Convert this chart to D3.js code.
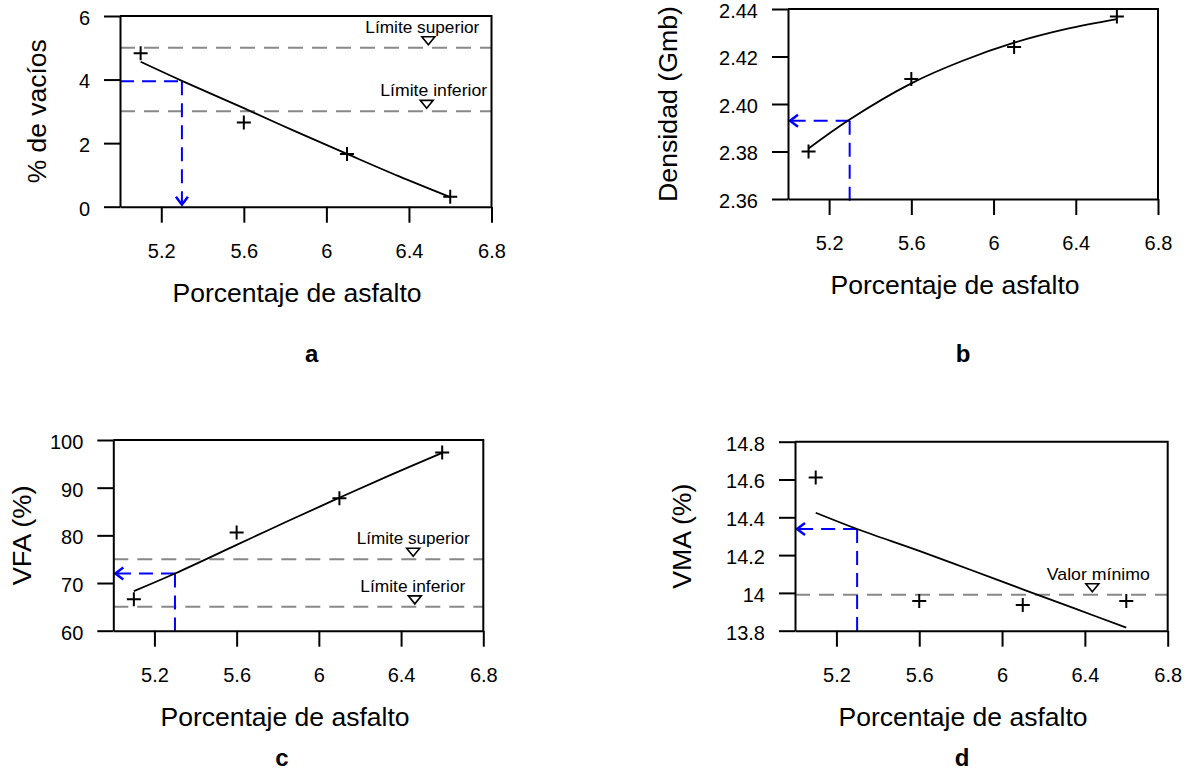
<!DOCTYPE html>
<html><head><meta charset="utf-8">
<script src="https://cdn.jsdelivr.net/npm/d3@7"></script>
<style>
body{margin:0;background:#fff}
svg{display:block}
text{font-family:Arial,"Liberation Sans",sans-serif;fill:#000}
</style>
</head><body>
<svg id="chart" width="1189" height="772"></svg>
<script>
// ---------- data ----------
const asphalt = [5.1, 5.6, 6.1, 6.6];
const voids   = [4.83, 2.65, 1.66, 0.31];
const density = [2.380, 2.4105, 2.424, 2.4368];
const vfa     = [66.6, 80.6, 87.8, 97.4];
const vma     = [14.61, 13.957, 13.936, 13.957];

const fitX        = [5.1, 5.3, 5.6, 5.85, 6.1, 6.35, 6.6];
const voidsFit    = [4.56, 3.96, 3.1, 2.37, 1.66, 0.96, 0.3];
const densityFit  = [2.3813, 2.3935, 2.4087, 2.4182, 2.4258, 2.4315, 2.4357];
const vfaFit      = [68.3, 72.0, 78.0, 83.0, 87.9, 92.7, 97.3];
const vmaFit      = [14.424, 14.338, 14.222, 14.121, 14.019, 13.918, 13.816];

const designAsphalt = 5.3;
const designValues  = [3.95, 2.393, 72.0, 14.338];

const voidsLimits = [5, 3];
const vfaLimits   = [75, 65];
const vmaLimits   = [13.99];
const limitLabelsAC = ["Límite superior", "Límite inferior"];
const limitLabelsD  = ["Valor mínimo"];

const xMajorTicks = [5.2, 5.6, 6.0, 6.4, 6.8];
const xMinorTicks = [5.0, 5.4, 5.8, 6.2, 6.6];
const xTitle = "Porcentaje de asfalto";

// ---------- drawing ----------
const svg = d3.select("#chart");
const fmt1 = d => String(+d.toFixed(1));
const FONT = "Arial, 'Liberation Sans', sans-serif";

const panels = [
  {letter:"a", x0:120, x1:491.5, y0:206.7, y1:16, yDomain:[0,6],
   yMajor:[0,2,4,6], yMinor:[1,3,5], yMinorLen:16, yFmt:d=>String(d),
   pts:voids, fit:voidsFit, limits:voidsLimits, labels:limitLabelsAC,
   triX:[6.494,6.486], textDx:[-6,7], textLen:[114,107],
   yTitle:"% de vacíos", yTitleX:37, yTitleLen:144,
   target:designValues[0], mode:"down",
   xTitleX:297, xTitleLen:249, letterX:311.7, letterY:353},
  {letter:"b", x0:788, x1:1158, y0:199, y1:9, yDomain:[2.36,2.44],
   yMajor:[2.36,2.38,2.40,2.42,2.44], yMinor:[2.37,2.39,2.41,2.43], yMinorLen:11, yFmt:d3.format(".2f"),
   pts:density, fit:densityFit, limits:[], labels:[], triX:[], textDx:[], textLen:[],
   yTitle:"Densidad (Gmb)", yTitleX:668, yTitleLen:196,
   target:designValues[1], mode:"left", vExtra:7,
   xTitleX:955, xTitleLen:249, letterX:963, letterY:353},
  {letter:"c", x0:113.3, x1:483.3, y0:630.7, y1:440, yDomain:[60,100],
   yMajor:[60,70,80,90,100], yMinor:[65,75,85,95], yMinorLen:11, yFmt:d=>String(d),
   pts:vfa, fit:vfaFit, limits:vfaLimits, labels:limitLabelsAC,
   triX:[6.459,6.467], textDx:[0,-2], textLen:[113,105],
   yTitle:"VFA (%)", yTitleX:22, yTitleLen:100,
   target:designValues[2], mode:"left", vExtra:1,
   xTitleX:285, xTitleLen:249, letterX:282, letterY:757},
  {letter:"d", x0:795, x1:1167.7, y0:630.7, y1:441.7, yDomain:[13.8,14.8],
   yMajor:[13.8,14.0,14.2,14.4,14.6,14.8], yMinor:[13.9,14.1,14.3,14.5,14.7], yMinorLen:11, yFmt:fmt1,
   pts:vma, fit:vmaFit, limits:vmaLimits, labels:limitLabelsD,
   triX:[6.436], textDx:[6], textLen:[103],
   yTitle:"VMA (%)", yTitleX:682, yTitleLen:105,
   target:designValues[3], mode:"left", vExtra:1,
   xTitleX:963, xTitleLen:249, letterX:962, letterY:757}
];

panels.forEach(p => {
  const g = svg.append("g");
  const x = d3.scaleLinear().domain([5.0, 6.8]).range([p.x0, p.x1]);
  const y = d3.scaleLinear().domain(p.yDomain).range([p.y0, p.y1]);

  // gray dashed limit lines
  g.selectAll(".lim").data(p.limits).join("line")
    .attr("x1", p.x0).attr("x2", p.x1)
    .attr("y1", d => y(d)).attr("y2", d => y(d))
    .attr("stroke", "#888").attr("stroke-width", 2).attr("stroke-dasharray", "15,9");

  // limit annotations
  p.limits.forEach((lv, i) => {
    const tx = x(p.triX[i]), tip = y(lv) - 3;
    g.append("path")
      .attr("d", `M${tx-6.5},${tip-8}L${tx+6.5},${tip-8}L${tx},${tip}Z`)
      .attr("fill", "#fff").attr("stroke", "#000").attr("stroke-width", 1.6);
    g.append("text").attr("x", tx + p.textDx[i]).attr("y", tip - 12)
      .attr("text-anchor", "middle").attr("font-size", 17)
      .attr("textLength", p.textLen[i]).attr("lengthAdjust", "spacingAndGlyphs")
      .text(p.labels[i]);
  });

  // blue design guides
  const bx = x(designAsphalt), by = y(p.target);
  const blue = "#0000ff";
  if (p.mode === "down") {
    g.append("line").attr("x1", p.x0).attr("x2", bx).attr("y1", by).attr("y2", by)
      .attr("stroke", blue).attr("stroke-width", 2).attr("stroke-dasharray", "14,8");
    g.append("line").attr("x1", bx).attr("x2", bx).attr("y1", by).attr("y2", p.y0 - 2)
      .attr("stroke", blue).attr("stroke-width", 2).attr("stroke-dasharray", "14,8");
    g.append("path").attr("d", `M${bx-6},${p.y0-10}L${bx},${p.y0-2}L${bx+6},${p.y0-10}`)
      .attr("fill", "none").attr("stroke", blue).attr("stroke-width", 2.5);
  } else {
    g.append("line").attr("x1", bx).attr("x2", p.x0 + 2).attr("y1", by).attr("y2", by)
      .attr("stroke", blue).attr("stroke-width", 2).attr("stroke-dasharray", "14,8");
    g.append("line").attr("x1", bx).attr("x2", bx).attr("y1", by).attr("y2", p.y0 + p.vExtra)
      .attr("stroke", blue).attr("stroke-width", 2).attr("stroke-dasharray", "14,8");
    g.append("path").attr("d", `M${p.x0+10},${by-6}L${p.x0+2},${by}L${p.x0+10},${by+6}`)
      .attr("fill", "none").attr("stroke", blue).attr("stroke-width", 2.5);
  }

  // fitted curve
  const line = d3.line().x((d, i) => x(fitX[i])).y(d => y(d)).curve(d3.curveCatmullRom.alpha(0.5));
  g.append("path").attr("d", line(p.fit)).attr("fill", "none")
    .attr("stroke", "#000").attr("stroke-width", 1.8);

  // data markers (+)
  g.selectAll(".pt").data(p.pts).join("path")
    .attr("d", (d, i) => {
      const cx = x(asphalt[i]), cy = y(d);
      return `M${cx-7},${cy}H${cx+7}M${cx},${cy-7}V${cy+7}`;
    })
    .attr("stroke", "#000").attr("stroke-width", 2).attr("fill", "none");

  // frame (top + right)
  g.append("path").attr("d", `M${p.x0},${p.y1}H${p.x1}V${p.y0}`)
    .attr("fill", "none").attr("stroke", "#000").attr("stroke-width", 2);

  // x axis
  const xa = g.append("g").attr("transform", `translate(0,${p.y0})`);
  xa.call(d3.axisBottom(x).tickValues(xMinorTicks).tickSize(11).tickSizeOuter(0).tickFormat(""));
  xa.call(d3.axisBottom(x).tickValues(xMajorTicks).tickSize(16).tickSizeOuter(0).tickFormat(fmt1).tickPadding(21));
  xa.selectAll("path,line").attr("stroke", "#000").attr("stroke-width", 2);
  xa.selectAll("text").attr("font-size", 20).attr("font-family", FONT).attr("fill", "#000");

  // y axis
  const ya = g.append("g").attr("transform", `translate(${p.x0},0)`);
  ya.call(d3.axisLeft(y).tickValues(p.yMinor).tickSize(p.yMinorLen).tickSizeOuter(0).tickFormat(""));
  ya.call(d3.axisLeft(y).tickValues(p.yMajor).tickSize(16).tickSizeOuter(0).tickFormat(p.yFmt).tickPadding(14));
  ya.selectAll("path,line").attr("stroke", "#000").attr("stroke-width", 2);
  ya.selectAll("text").attr("font-size", 20).attr("dy", "0.42em").attr("font-family", FONT).attr("fill", "#000");

  // titles
  g.append("text").attr("x", p.xTitleX).attr("y", p.y0 + 86)
    .attr("text-anchor", "middle").attr("dominant-baseline", "central")
    .attr("font-size", 25).attr("textLength", p.xTitleLen).attr("lengthAdjust", "spacingAndGlyphs")
    .text(xTitle);
  g.append("text")
    .attr("transform", `translate(${p.yTitleX},${(p.y0 + p.y1) / 2}) rotate(-90)`)
    .attr("text-anchor", "middle").attr("dominant-baseline", "central")
    .attr("font-size", 25).attr("textLength", p.yTitleLen).attr("lengthAdjust", "spacingAndGlyphs")
    .text(p.yTitle);
  g.append("text").attr("x", p.letterX).attr("y", p.letterY)
    .attr("text-anchor", "middle").attr("dominant-baseline", "central")
    .attr("font-size", 24).attr("font-weight", "bold").text(p.letter);
});
</script>
</body></html>
